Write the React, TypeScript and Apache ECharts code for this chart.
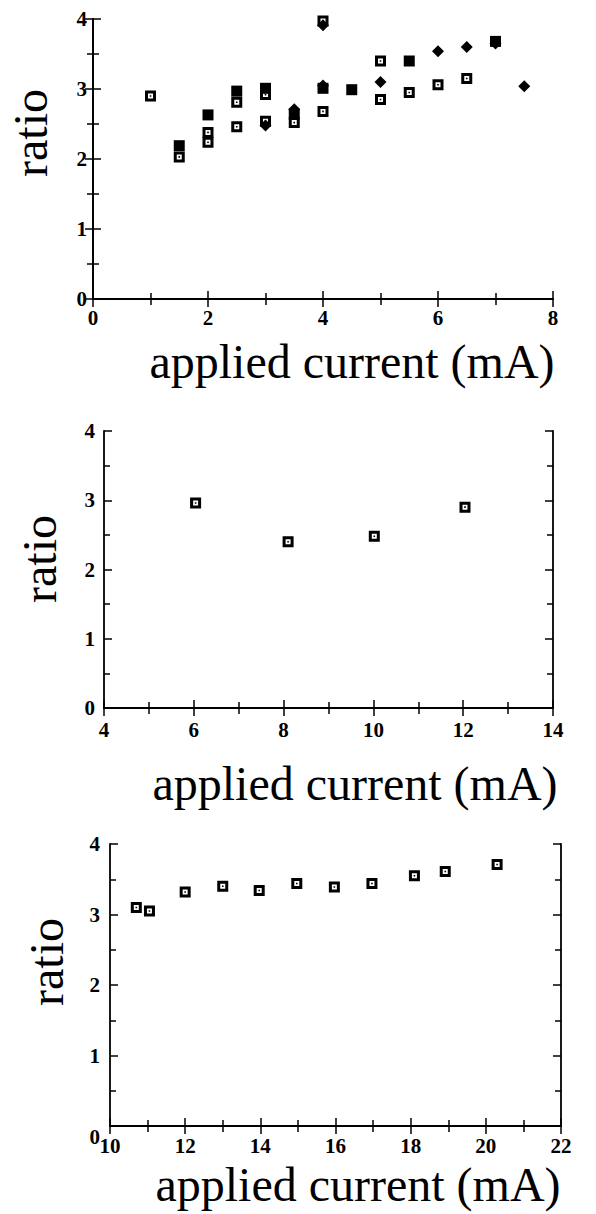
import React, { useEffect, useRef } from "react";
import * as echarts from "echarts";

// Panel 1 (0-8 mA)
const p1OpenX = [1, 1.5, 2, 2, 2.5, 2.5, 3, 3, 3.5, 4, 4, 5, 5, 5.5, 6, 6.5];
const p1OpenY = [2.9, 2.03, 2.38, 2.24, 2.81, 2.46, 2.92, 2.54, 2.52, 2.68, 3.97, 3.4, 2.85, 2.95, 3.06, 3.15];
const p1FilledX = [1.5, 2, 2.5, 3, 3.5, 4, 4.5, 5.5, 7];
const p1FilledY = [2.19, 2.63, 2.97, 3.01, 2.64, 3.01, 2.99, 3.4, 3.68];
const p1DiamondX = [3, 3.5, 4, 4, 5, 6, 6.5, 7, 7.5];
const p1DiamondY = [2.48, 2.71, 3.05, 3.91, 3.1, 3.54, 3.6, 3.65, 3.04];

// Panel 2 (4-14 mA)
const p2X = [6.04, 8.1, 10.02, 12.04];
const p2Y = [2.96, 2.4, 2.48, 2.9];

// Panel 3 (10-22 mA)
const p3X = [10.7, 11.05, 12.0, 13.0, 13.97, 14.97, 15.97, 16.97, 18.1, 18.92, 20.3];
const p3Y = [3.1, 3.05, 3.32, 3.4, 3.34, 3.44, 3.39, 3.44, 3.55, 3.61, 3.71];

// Axis ranges
const xRanges = [
  [0, 8],
  [4, 14],
  [10, 22],
];
const yRange = [0, 4];
const xLabel = "applied current (mA)";
const yLabel = "ratio";

const FONT = "'Liberation Serif', 'Times New Roman', serif";
const OPEN_SQ = "path://M0,0H11V11H0Z M3,3V8H8V3Z M4.7,4.7H6.3V6.3H4.7Z";

const zip = (xs: number[], ys: number[]) => xs.map((x, i) => [x, ys[i]]);

export default function App() {
  const ref = useRef<HTMLDivElement>(null);
  useEffect(() => {
    document.body.style.margin = "0";
    const chart = echarts.init(ref.current!, null, { renderer: "svg" });

    const grids = [
      { left: 93, top: 19, width: 460, height: 280 },
      { left: 104, top: 431, width: 449, height: 277 },
      { left: 110, top: 844, width: 451, height: 282 },
    ];
    const xMargins = [8, 11, 9];
    const yMargins = [6, 9, 10];

    const lineStyle = { color: "#000", width: 1.8 };
    const tick = { show: true, inside: true, length: 8, lineStyle: { color: "#000", width: 1.5 } };
    const minor = { show: true, splitNumber: 2, length: 6, lineStyle: { color: "#000", width: 1.5 } };
    const labelBase = { color: "#000", fontFamily: FONT, fontWeight: "bold" as const, fontSize: 21 };

    const xAxis: any[] = [];
    const yAxis: any[] = [];
    grids.forEach((g, i) => {
      const [mn, mx] = xRanges[i];
      xAxis.push({
        type: "value", gridIndex: i, position: "bottom", min: mn, max: mx, interval: 2,
        axisLine: { show: true, lineStyle }, axisTick: tick, minorTick: minor,
        splitLine: { show: false },
        axisLabel: { ...labelBase, margin: xMargins[i] },
      });
      xAxis.push({
        type: "value", gridIndex: i, position: "top", min: mn, max: mx, interval: 2,
        axisLine: { show: true, lineStyle }, axisTick: tick, minorTick: minor,
        splitLine: { show: false }, axisLabel: { show: false },
      });
      const isP3 = i === 2;
      yAxis.push({
        type: "value", gridIndex: i, position: "left", min: yRange[0], max: yRange[1], interval: 1,
        axisLine: { show: true, lineStyle }, axisTick: tick, minorTick: minor,
        splitLine: { show: false },
        axisLabel: {
          ...labelBase, margin: yMargins[i],
          formatter: (v: number) => (isP3 && v === 0 ? "{z|0}" : String(v)),
          rich: { z: { ...labelBase, padding: [22, 0, 0, 0] } },
        },
      });
      yAxis.push({
        type: "value", gridIndex: i, position: "right", min: yRange[0], max: yRange[1], interval: 1,
        axisLine: { show: true, lineStyle }, axisTick: tick, minorTick: minor,
        splitLine: { show: false }, axisLabel: { show: false },
      });
    });

    const solid = { color: "#000", opacity: 1 };
    const openStyle = { symbol: OPEN_SQ, symbolSize: 11, itemStyle: solid };
    const series: any[] = [
      { type: "scatter", xAxisIndex: 0, yAxisIndex: 0, data: zip(p1DiamondX, p1DiamondY), symbol: "diamond", symbolSize: [12, 12], itemStyle: solid },
      { type: "scatter", xAxisIndex: 0, yAxisIndex: 0, data: zip(p1FilledX, p1FilledY), symbol: "rect", symbolSize: 11, itemStyle: solid },
      { type: "scatter", xAxisIndex: 0, yAxisIndex: 0, data: zip(p1OpenX, p1OpenY), ...openStyle },
      { type: "scatter", xAxisIndex: 2, yAxisIndex: 2, data: zip(p2X, p2Y), ...openStyle },
      { type: "scatter", xAxisIndex: 4, yAxisIndex: 4, data: zip(p3X, p3Y), ...openStyle },
    ];

    const nameStyle = { fill: "#000", fontFamily: FONT, fontSize: 48, align: "center", verticalAlign: "middle" };
    const graphic: any[] = [
      { type: "text", x: 352, y: 361, style: { ...nameStyle, text: xLabel } },
      { type: "text", x: 355, y: 783, style: { ...nameStyle, text: xLabel } },
      { type: "text", x: 358, y: 1184, style: { ...nameStyle, text: xLabel } },
      { type: "text", x: 30, y: 133, rotation: Math.PI / 2, style: { ...nameStyle, text: yLabel } },
      { type: "text", x: 39, y: 559, rotation: Math.PI / 2, style: { ...nameStyle, text: yLabel } },
      { type: "text", x: 46, y: 962, rotation: Math.PI / 2, style: { ...nameStyle, text: yLabel } },
    ];

    chart.setOption({
      animation: false,
      backgroundColor: "#fff",
      grid: grids,
      xAxis,
      yAxis,
      series,
      graphic,
    });
    return () => chart.dispose();
  }, []);
  return <div ref={ref} style={{ width: 596, height: 1214 }} />;
}
